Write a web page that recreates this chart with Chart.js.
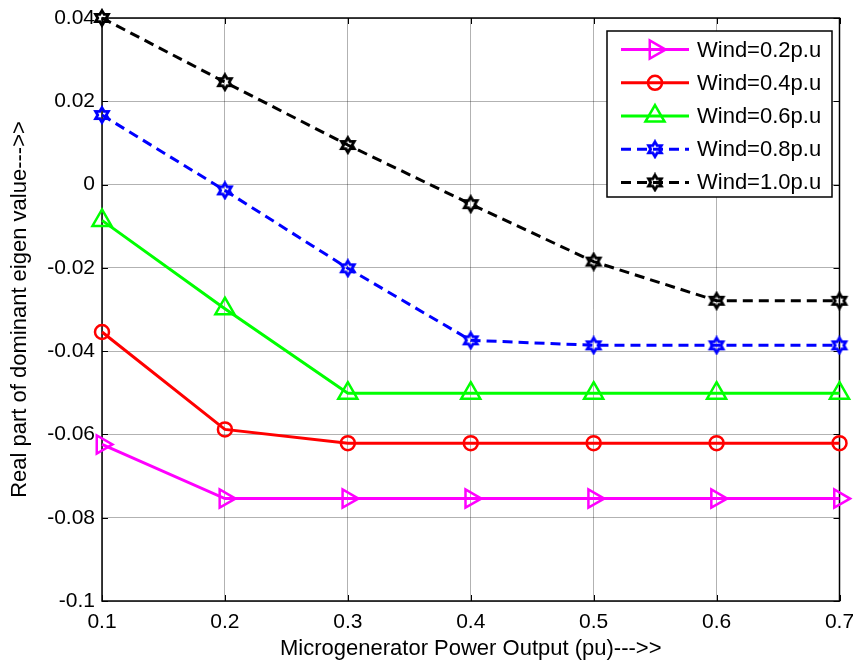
<!DOCTYPE html>
<html>
<head>
<meta charset="utf-8">
<script src="https://cdn.jsdelivr.net/npm/chart.js@4/dist/chart.umd.min.js"></script>
<style>
html,body{margin:0;padding:0;background:#fff;}
#wrap{width:853px;height:664px;position:relative;}
</style>
</head>
<body>
<div id="wrap"><canvas id="c" width="853" height="664"></canvas></div>
<script>
// ---- data ----
const xValues = [0.1, 0.2, 0.3, 0.4, 0.5, 0.6, 0.7];
const wind02 = [-0.0624, -0.0754, -0.0754, -0.0754, -0.0754, -0.0754, -0.0754];
const wind04 = [-0.0354, -0.0588, -0.0621, -0.0621, -0.0621, -0.0621, -0.0621];
const wind06 = [-0.0086, -0.0298, -0.0501, -0.0501, -0.0501, -0.0501, -0.0501];
const wind08 = [0.0167, -0.0014, -0.0201, -0.0374, -0.0386, -0.0386, -0.0386];
const wind10 = [0.0400, 0.0246, 0.0095, -0.0047, -0.0185, -0.0279, -0.0279];
const seriesLabels = ['Wind=0.2p.u', 'Wind=0.4p.u', 'Wind=0.6p.u', 'Wind=0.8p.u', 'Wind=1.0p.u'];
const yTickMin = -0.1, yTickMax = 0.04, yTickStep = 0.02;
const xTickMin = 0.1, xTickMax = 0.7, xTickStep = 0.1;

function hexagram(color) {
  const c = document.createElement('canvas');
  c.width = 20; c.height = 20;
  const g = c.getContext('2d');
  const R = 7.4, r = R / Math.sqrt(3);
  g.beginPath();
  for (let i = 0; i < 12; i++) {
    const a = -Math.PI / 2 + i * Math.PI / 6;
    const rr = (i % 2 === 0) ? R : r;
    const px = 10 + rr * Math.cos(a), py = 10 + rr * Math.sin(a);
    if (i === 0) g.moveTo(px, py); else g.lineTo(px, py);
  }
  g.closePath();
  g.strokeStyle = color; g.lineWidth = 2.8; g.lineJoin = 'miter';
  g.stroke();
  return c;
}
const hexBlue = hexagram('#0000ff');
const hexBlack = hexagram('#000000');

function pts(arr) { return xValues.map((x, i) => ({ x: x, y: arr[i] })); }

const datasets = [
  { label: seriesLabels[0], data: pts(wind02), borderColor: '#ff00ff', pointBorderColor: '#ff00ff',
    pointStyle: 'triangle', pointRotation: 90, pointRadius: 10.5, borderDash: [] },
  { label: seriesLabels[1], data: pts(wind04), borderColor: '#ff0000', pointBorderColor: '#ff0000',
    pointStyle: 'circle', pointRadius: 7, borderDash: [] },
  { label: seriesLabels[2], data: pts(wind06), borderColor: '#00ff00', pointBorderColor: '#00ff00',
    pointStyle: 'triangle', pointRotation: 0, pointRadius: 11, borderDash: [] },
  { label: seriesLabels[3], data: pts(wind08), borderColor: '#0000ff', pointBorderColor: '#0000ff',
    pointStyle: hexBlue, pointRadius: 8, borderDash: [10, 6] },
  { label: seriesLabels[4], data: pts(wind10), borderColor: '#000000', pointBorderColor: '#000000',
    pointStyle: hexBlack, pointRadius: 8, borderDash: [10, 6] }
].map(d => Object.assign({
  borderWidth: 3, pointBorderWidth: 2.5, pointBackgroundColor: 'rgba(0,0,0,0)',
  pointHoverRadius: d.pointRadius, fill: false, tension: 0, clip: false
}, d));

function drawMarker(ctx, ds, x, y) {
  ctx.save();
  ctx.strokeStyle = ds.pointBorderColor;
  ctx.lineWidth = ds.pointBorderWidth;
  const st = ds.pointStyle, r = ds.pointRadius;
  if (st instanceof HTMLCanvasElement) {
    ctx.drawImage(st, x - st.width / 2, y - st.height / 2);
  } else if (st === 'circle') {
    ctx.beginPath(); ctx.arc(x, y, r, 0, Math.PI * 2); ctx.stroke();
  } else if (st === 'triangle') {
    let rad = (ds.pointRotation || 0) * Math.PI / 180;
    ctx.beginPath();
    for (let i = 0; i < 3; i++) {
      const px = x + Math.sin(rad) * r, py = y - Math.cos(rad) * r;
      if (i === 0) ctx.moveTo(px, py); else ctx.lineTo(px, py);
      rad += 2 * Math.PI / 3;
    }
    ctx.closePath(); ctx.stroke();
  }
  ctx.restore();
}

const framePlugin = {
  id: 'frame',
  beforeDatasetsDraw(chart) {
    const { ctx, chartArea: a, scales } = chart;
    ctx.save();
    ctx.strokeStyle = '#000'; ctx.lineWidth = 1.5;
    ctx.strokeRect(a.left, a.top, a.right - a.left, a.bottom - a.top);
    ctx.lineWidth = 1;
    const tl = 6;
    scales.x.ticks.forEach(t => {
      const px = Math.round(scales.x.getPixelForValue(t.value)) + 0.5;
      ctx.beginPath();
      ctx.moveTo(px, a.bottom); ctx.lineTo(px, a.bottom - tl);
      ctx.moveTo(px, a.top); ctx.lineTo(px, a.top + tl);
      ctx.stroke();
    });
    scales.y.ticks.forEach(t => {
      const py = Math.round(scales.y.getPixelForValue(t.value)) + 0.5;
      ctx.beginPath();
      ctx.moveTo(a.left, py); ctx.lineTo(a.left + tl, py);
      ctx.moveTo(a.right, py); ctx.lineTo(a.right - tl, py);
      ctx.stroke();
    });
    ctx.restore();
  }
};

const legendPlugin = {
  id: 'boxLegend',
  afterDraw(chart) {
    const ctx = chart.ctx;
    const L = 607, T = 31, R = 832, B = 197;
    ctx.save();
    ctx.fillStyle = '#fff';
    ctx.fillRect(L, T, R - L, B - T);
    ctx.strokeStyle = '#000'; ctx.lineWidth = 1.5;
    ctx.strokeRect(L, T, R - L, B - T);
    const rowH = (B - T) / chart.data.datasets.length;
    chart.data.datasets.forEach((ds, i) => {
      const y = T + 2 + rowH * (i + 0.5);
      ctx.save();
      ctx.strokeStyle = ds.borderColor; ctx.lineWidth = ds.borderWidth;
      ctx.setLineDash(ds.borderDash || []);
      ctx.beginPath(); ctx.moveTo(621, y); ctx.lineTo(689, y); ctx.stroke();
      ctx.restore();
      drawMarker(ctx, ds, 655, y);
      ctx.fillStyle = '#000';
      ctx.font = '22px "Liberation Sans", Arial, sans-serif';
      ctx.textBaseline = 'middle'; ctx.textAlign = 'left';
      ctx.fillText(ds.label, 697, y + 1);
    });
    ctx.restore();
  }
};

Chart.defaults.font.family = '"Liberation Sans", Arial, sans-serif';
Chart.defaults.color = '#000';

new Chart(document.getElementById('c'), {
  type: 'line',
  data: { datasets: datasets },
  options: {
    responsive: false,
    animation: false,
    events: [],
    layout: { padding: { top: 18, right: 13, left: 0, bottom: 0 } },
    plugins: { legend: { display: false }, tooltip: { enabled: false } },
    scales: {
      x: {
        type: 'linear', min: xTickMin, max: xTickMax,
        ticks: { stepSize: xTickStep, padding: 9, font: { size: 21 }, color: '#000',
                 callback: v => (+v.toFixed(1)).toString() },
        grid: { color: 'rgba(0,0,0,0.3)', lineWidth: 1, tickLength: 0 },
        border: { display: false },
        title: { display: true, text: 'Microgenerator Power Output (pu)--->>',
                 font: { size: 22 }, color: '#000', padding: { top: 0, bottom: 2 } },
        afterFit: s => { s.height = 63; s.paddingLeft = 0; s.paddingRight = 0; }
      },
      y: {
        type: 'linear', min: yTickMin, max: yTickMax,
        ticks: { stepSize: yTickStep, padding: 7, font: { size: 21 }, color: '#000',
                 callback: v => (+v.toFixed(2)).toString() },
        grid: { color: 'rgba(0,0,0,0.3)', lineWidth: 1, tickLength: 0 },
        border: { display: false },
        title: { display: true, text: 'Real part of dominant eigen value--->>',
                 font: { size: 22 }, color: '#000', padding: { top: 7, bottom: 0 } },
        afterFit: s => { s.width = 102; s.paddingTop = 0; s.paddingBottom = 0; }
      }
    }
  },
  plugins: [framePlugin, legendPlugin]
});
</script>
</body>
</html>
